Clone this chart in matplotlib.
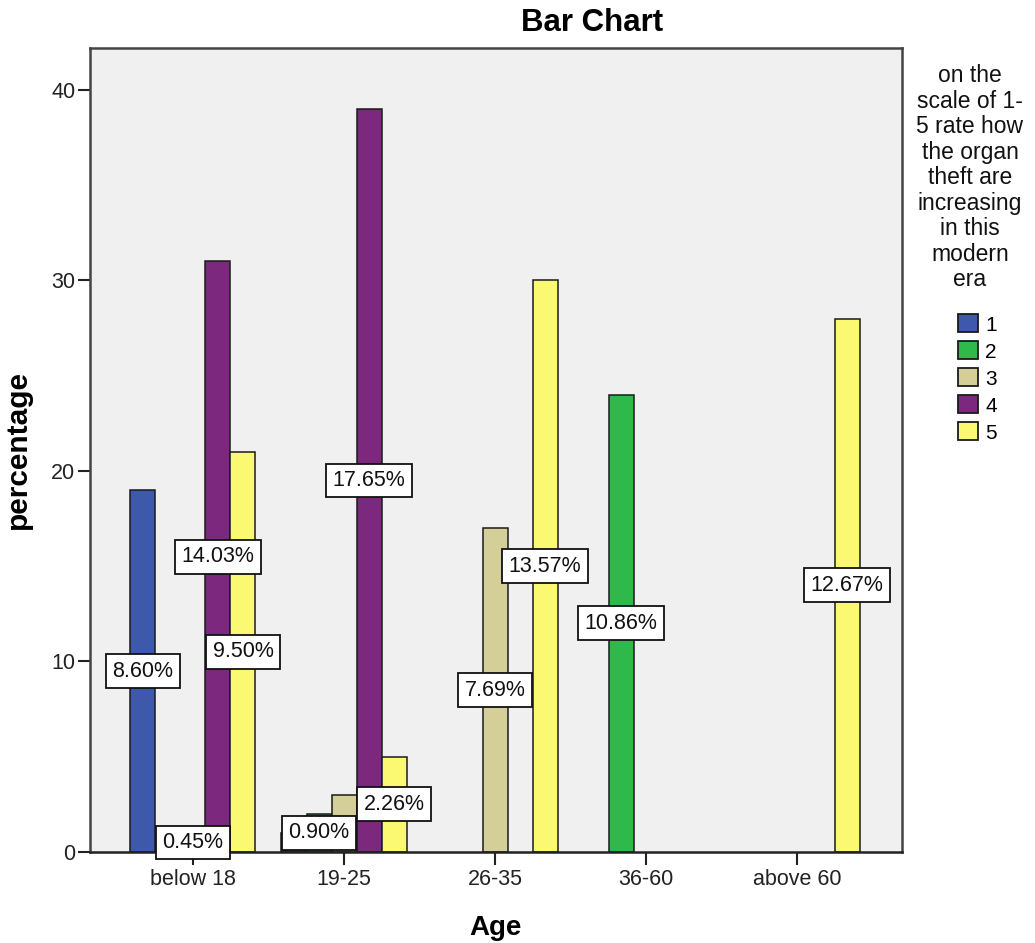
import matplotlib
matplotlib.use("Agg")
import matplotlib.pyplot as plt
from matplotlib.patches import Patch
import numpy as np

plt.rcParams['font.family'] = ['Liberation Sans', 'DejaVu Sans']

categories = ["below 18", "19-25", "26-35", "36-60", "above 60"]
series_names = ["1", "2", "3", "4", "5"]
# counts per series per age group (bar heights)
counts = {
    "1": [19, 1, 0, 0, 0],
    "2": [0, 2, 0, 24, 0],
    "3": [1, 3, 17, 0, 0],
    "4": [31, 39, 0, 0, 0],
    "5": [21, 5, 30, 0, 28],
}
# labels shown on bars ("" = hidden)
labels = {
    "1": ["8.60%", "", "", "", ""],
    "2": ["", "0.90%", "", "10.86%", ""],
    "3": ["0.45%", "", "7.69%", "", ""],
    "4": ["14.03%", "17.65%", "", "", ""],
    "5": ["9.50%", "2.26%", "13.57%", "", "12.67%"],
}
colors = ["#3E58AC", "#2FB94A", "#D4CF98", "#7C287E", "#FBF871"]
legend_title = "on the\nscale of 1-\n5 rate how\nthe organ\ntheft are\nincreasing\nin this\nmodern\nera"

W, H = 1035, 943
fig = plt.figure(figsize=(W/100, H/100), dpi=100)
ax = fig.add_axes([90/W, 1-852/H, (902-90)/W, (852-48)/H])
ax.set_facecolor("#F0F0F0")

x = np.arange(len(categories))
w = 125/151/5
for i, s in enumerate(series_names):
    h = np.array(counts[s], dtype=float)
    h[h == 0] = np.nan
    ax.bar(x + (i-2)*w, h, width=w, color=colors[i],
           edgecolor="#1a1a1a", linewidth=1.1, zorder=2)
for i, s in enumerate(series_names):
    for j, lab in enumerate(labels[s]):
        if lab:
            ax.text(x[j] + (i-2)*w, counts[s][j]/2, lab, ha="center", va="center",
                    fontsize=15.5, color="#111111", zorder=4,
                    bbox=dict(boxstyle="square,pad=0.3", facecolor="white",
                              edgecolor="#111111", linewidth=1.3))

ax.set_xlim(-0.682, 4.695)
ax.set_ylim(0, 42.2)
ax.set_xticks(x)
ax.set_xticklabels(categories, fontsize=15.5, color="#222222")
ax.set_yticks([0, 10, 20, 30, 40])
ax.tick_params(axis="y", labelsize=15.5, colors="#222222", length=9, width=1.5,
               direction="out", pad=1.5)
ax.tick_params(axis="x", length=9, width=1.5, direction="out", colors="#222222", pad=3)
for sp in ax.spines.values():
    sp.set_color("#444444")
    sp.set_linewidth(1.8)
ax.spines["bottom"].set_color("#222222")

ax.set_xlabel("Age", fontsize=20, fontweight="bold", labelpad=18)
ax.set_ylabel("percentage", fontsize=21.5, fontweight="bold", labelpad=14)
fig.text(592/W, 1-23/H, "Bar Chart", ha="center", va="center",
         fontsize=22.5, fontweight="bold")

fig.text(970/W, 1-64/H, legend_title, ha="center", va="top", fontsize=16.5,
         linespacing=1.14, multialignment="center", color="#111111")
handles = [Patch(facecolor=c, edgecolor="#1a1a1a", linewidth=1.3) for c in colors]
fig.legend(handles, series_names, loc="upper left",
           bbox_to_anchor=(948/W, 1-304/H), frameon=False, borderpad=0,
           fontsize=15, handlelength=0.95, handleheight=0.95,
           handletextpad=0.35, labelspacing=0.33)

fig.savefig("out.png", dpi=100, facecolor="white")
